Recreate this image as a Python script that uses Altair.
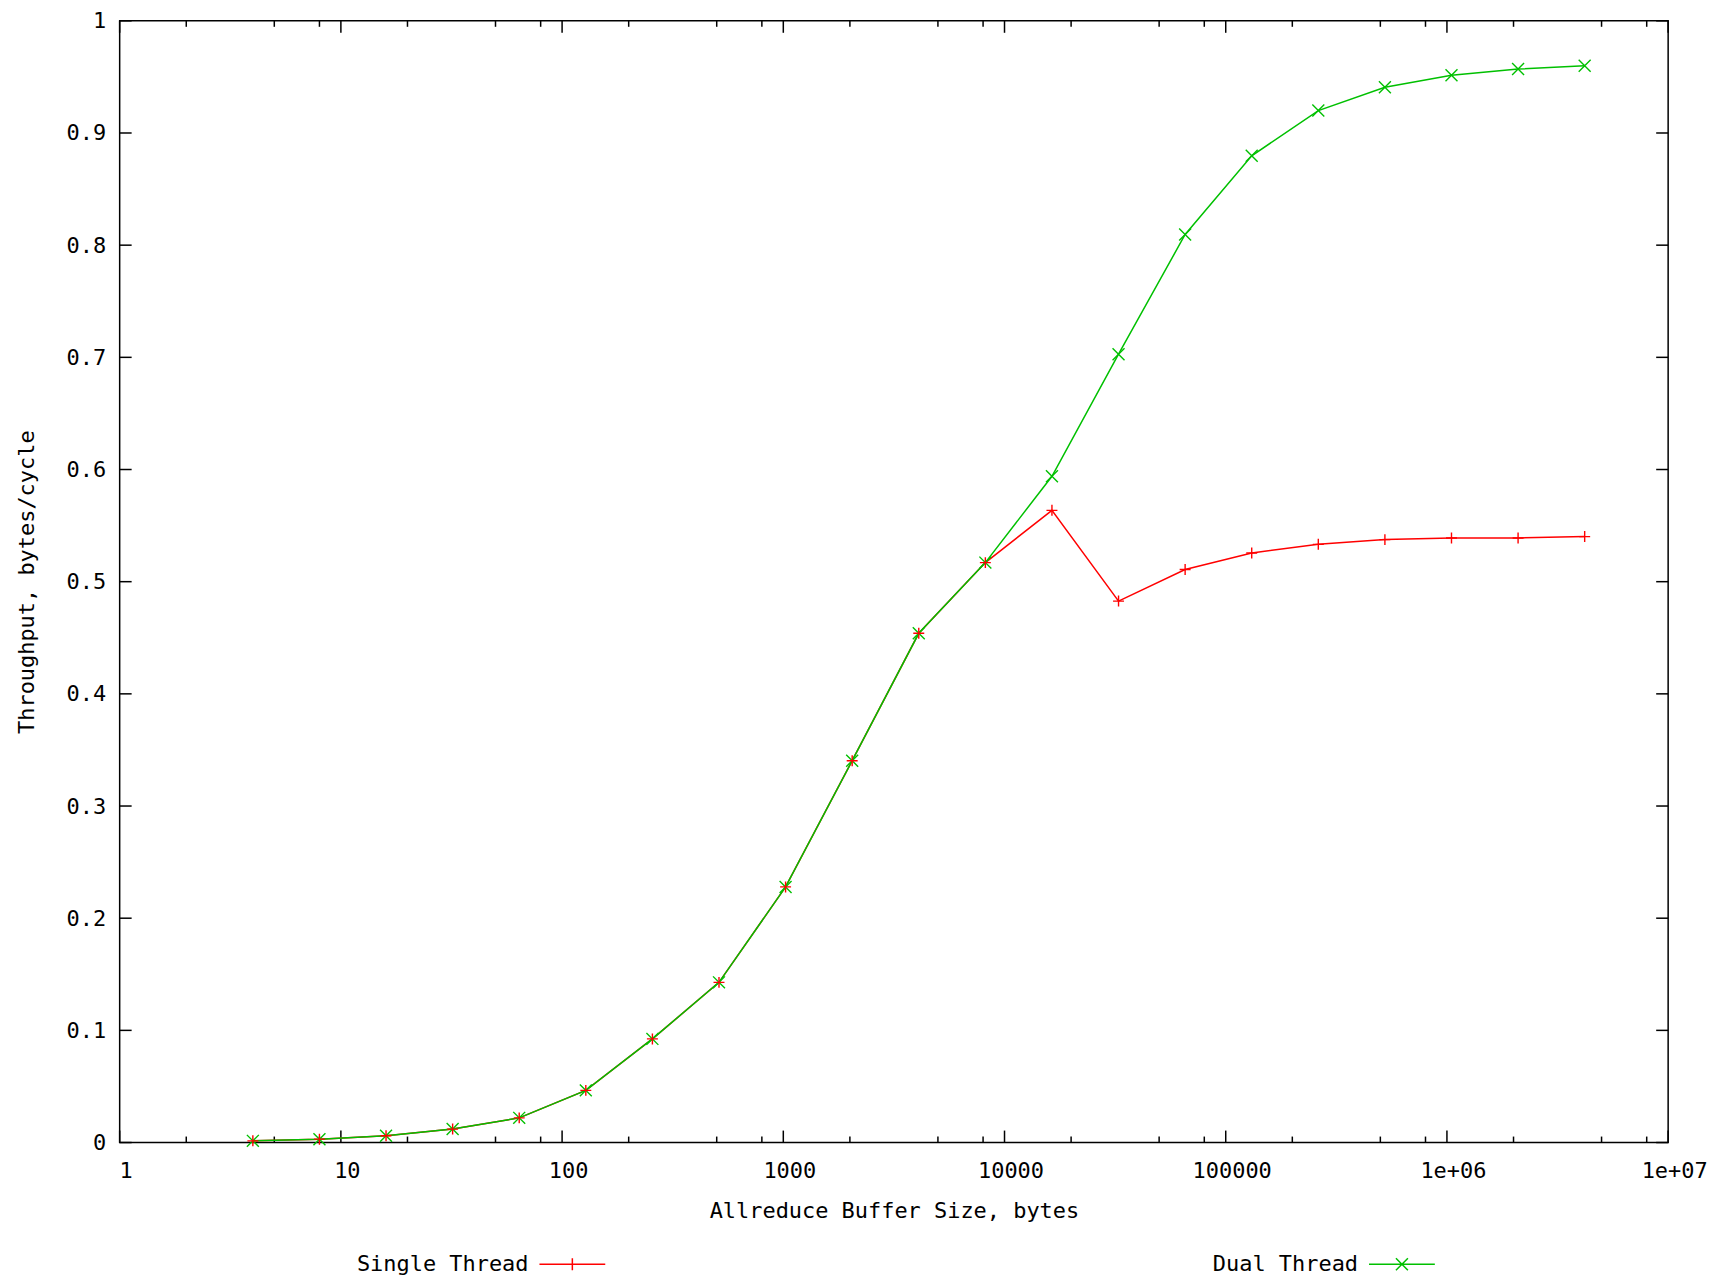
import altair as alt
import pandas as pd

# ---- data ----
sizes = [4, 8, 16, 32, 64, 128, 256, 512, 1024, 2048, 4096, 8192, 16384,
         32768, 65536, 131072, 262144, 524288, 1048576, 2097152, 4194304]
single = [0.0015, 0.003, 0.006, 0.012, 0.022, 0.0465, 0.0924, 0.1428, 0.2279,
          0.3404, 0.454, 0.517, 0.5636, 0.4827, 0.5108, 0.5256, 0.5333, 0.5375,
          0.539, 0.539, 0.5402]
dual = [0.0015, 0.003, 0.006, 0.012, 0.022, 0.0465, 0.0924, 0.1428, 0.2279,
        0.3404, 0.454, 0.517, 0.594, 0.7028, 0.8095, 0.8797, 0.920, 0.9407,
        0.9514, 0.957, 0.960]
series_names = ["Single Thread", "Dual Thread"]
series_colors = ["#ff0000", "#00c000"]

x_major = [1, 10, 100, 1000, 10000, 100000, 1000000, 10000000]
x_minor = [2, 5, 8, 20, 50, 80, 200, 500, 800, 2000, 5000, 8000, 20000, 50000,
           80000, 200000, 500000, 800000, 2000000, 5000000, 8000000]
y_ticks = [0, 0.1, 0.2, 0.3, 0.4, 0.5, 0.6, 0.7, 0.8, 0.9, 1]

FONT = "DejaVu Sans Mono"
W, H = 1553, 1125

rows = []
for name, vals in zip(series_names, [single, dual]):
    for s, v in zip(sizes, vals):
        rows.append({"bytes": s, "thr": v, "series": name})
df = pd.DataFrame(rows)

xmaj_df = pd.DataFrame({"v": x_major})
xmin_df = pd.DataFrame({"v": x_minor})
y_df = pd.DataFrame({"v": y_ticks})

xscale = alt.Scale(type="log", domain=[1, 10000000], nice=False)
yscale = alt.Scale(domain=[0, 1], nice=False)
cscale = alt.Scale(domain=series_names, range=series_colors)

x_enc = alt.X(
    "bytes:Q", scale=xscale,
    axis=alt.Axis(values=x_major, ticks=False, tickSize=0, domain=False, grid=False,
                  labelExpr="datum.value >= 1000000 ? '1e+0' + round(log(datum.value)/LN10) : format(datum.value, 'd')",
                  labelPadding=18, labelOffset=6, labelFlush=False,
                  title="Allreduce Buffer Size, bytes", titleY=58, titleBaseline="top"))
y_enc = alt.Y(
    "thr:Q", scale=yscale,
    axis=alt.Axis(values=y_ticks, ticks=False, tickSize=0, domain=False, grid=False,
                  format="~g", labelPadding=14, labelFlush=False,
                  title="Throughput, bytes/cycle", titleX=-103, titleBaseline="top"))

PLUS = "M-1,0H1M0,-1V1"
CROSS = "M-1,-1L1,1M-1,1L1,-1"
# legend samples drawn to the right of the (right-aligned) label:
# a line segment with the series' marker on it (unit = 6px)
LEG_PLUS = "M3.667,0H14.667M9.167,-1V1"
LEG_CROSS = "M3.667,0H14.667M8.167,-1L10.167,1M8.167,1L10.167,-1"

base = alt.Chart(df)

def line_layer(name):
    return base.transform_filter(alt.datum.series == name).mark_line(strokeWidth=1.5).encode(
        x=x_enc, y=y_enc, color=alt.Color("series:N", scale=cscale, legend=None))

def point_layer(name, shape, size):
    return base.transform_filter(alt.datum.series == name).mark_point(
        filled=False, size=size, strokeWidth=1.4, opacity=1).encode(
        x=x_enc, y=y_enc, color=alt.Color("series:N", scale=cscale, legend=None),
        shape=alt.value(shape))

leg = alt.Legend(title=None, orient="none", legendX=388, legendY=1236,
                 direction="horizontal", columns=2, columnPadding=605,
                 symbolSize=144, symbolStrokeWidth=1.5, symbolOpacity=1,
                 labelAlign="right", labelOffset=0, symbolOffset=0,
                 labelFont=FONT, labelFontSize=22,
                 labelColor="black", padding=0, labelLimit=400)

# invisible layer that only carries the legend (line + marker samples)
legend_layer = base.mark_point(filled=False, opacity=0, strokeOpacity=0).encode(
    x=x_enc, y=y_enc,
    color=alt.Color("series:N", scale=cscale, legend=leg),
    shape=alt.Shape("series:N", scale=alt.Scale(domain=series_names, range=[LEG_PLUS, LEG_CROSS]),
                    legend=leg))

tick_style = dict(color="black", strokeWidth=1.5)
xs_maj = alt.X("v:Q", scale=xscale)
ys = alt.Y("v:Q", scale=yscale)
ticks = [
    alt.Chart(xmaj_df).mark_rule(**tick_style).encode(x=xs_maj, y=alt.value(H), y2=alt.value(H - 12)),
    alt.Chart(xmaj_df).mark_rule(**tick_style).encode(x=xs_maj, y=alt.value(0), y2=alt.value(12)),
    alt.Chart(xmin_df).mark_rule(**tick_style).encode(x=xs_maj, y=alt.value(H), y2=alt.value(H - 6)),
    alt.Chart(xmin_df).mark_rule(**tick_style).encode(x=xs_maj, y=alt.value(0), y2=alt.value(6)),
    alt.Chart(y_df).mark_rule(**tick_style).encode(y=ys, x=alt.value(0), x2=alt.value(12)),
    alt.Chart(y_df).mark_rule(**tick_style).encode(y=ys, x=alt.value(W - 12), x2=alt.value(W)),
]

chart = alt.layer(
    legend_layer,
    *ticks,
    line_layer("Single Thread"),
    line_layer("Dual Thread"),
    point_layer("Dual Thread", CROSS, 144),
    point_layer("Single Thread", PLUS, 121),
).properties(
    width=W, height=H,
    autosize=alt.AutoSizeParams(type="none"),
    padding={"left": 112, "top": 11, "right": 50, "bottom": 135},
    background="white",
).configure_axis(
    labelFont=FONT, titleFont=FONT, labelFontSize=22, titleFontSize=22,
    labelColor="black", titleColor="black", titleFontWeight="normal",
).configure_view(stroke="black", strokeWidth=1.5)

chart.save("out.html", embed_options={"renderer": "svg", "actions": False})
